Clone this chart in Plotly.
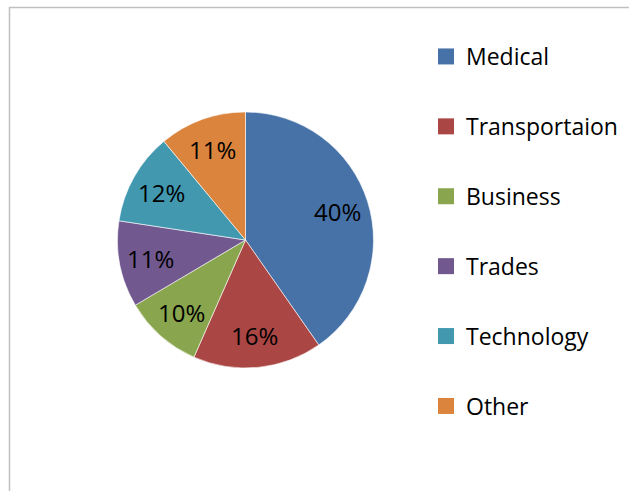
import math
import plotly.graph_objects as go

# slice data (shares of the whole)
categories = ['Medical', 'Transportaion', 'Business', 'Trades', 'Technology', 'Other']
values = [40.3, 16.3, 9.9, 10.9, 11.6, 11.0]
colors = ['#4672A8', '#AA4644', '#89A54E', '#71588F', '#4198AF', '#DB843D']

FONT = 'Open Sans, Liberation Sans, sans-serif'
W, H = 629, 491

# pie box in pixels
px0, px1, py0, py1 = 117, 374, 112, 368
cx, cy = (px0 + px1) / 2, (py0 + py1) / 2
R = (px1 - px0) / 2

fig = go.Figure()

fig.add_trace(go.Pie(labels=categories,
                     values=values,
                     sort=False,
                     direction='clockwise',
                     rotation=0,
                     marker=dict(colors=colors, line=dict(color='white', width=0.6)),
                     textinfo='none',
                     showlegend=False,
                     hoverinfo='label+percent',
                     domain=dict(x=[px0 / W, px1 / W], y=[1 - py1 / H, 1 - py0 / H])))

# percentage labels placed along each slice's middle angle, like Excel does
total = sum(values)
cum = 0
for v in values:
    mid = (cum + v / 2) / total * 2 * math.pi
    cum += v
    lx = cx + 0.75 * R * math.sin(mid)
    ly = cy - 0.75 * R * math.cos(mid)
    fig.add_annotation(x=lx / W, y=1 - ly / H, xref='paper', yref='paper',
                       xanchor='center', yanchor='middle',
                       text=f'{round(v / total * 100)}%', showarrow=False,
                       font=dict(family=FONT, size=24, color='black'))

# legend entries as dummy traces so the gap between items can be set
for cat, col in zip(categories, colors):
    fig.add_trace(go.Scatter(x=[None], y=[None],
                             mode='markers',
                             name=cat,
                             legendgroup=cat,
                             marker=dict(symbol='square', size=16, color=col),
                             showlegend=True))

fig.update_xaxes(visible=False)
fig.update_yaxes(visible=False)

fig.update_layout(width=W,
                  height=H,
                  margin=dict(l=0, r=0, t=0, b=0),
                  paper_bgcolor='white',
                  plot_bgcolor='white',
                  legend=dict(x=426 / W, y=1 - 35 / H,
                              xanchor='left', yanchor='top',
                              font=dict(family=FONT, size=23, color='black'),
                              tracegroupgap=37,
                              itemwidth=30,
                              bgcolor='rgba(0,0,0,0)'),
                  shapes=[dict(type='rect', xref='paper', yref='paper',
                               x0=9.5 / W, x1=1.2, y0=-0.2, y1=1 - 7.5 / H,
                               line=dict(color='#c0c0c0', width=1.5))])

# drop the page's default body margin so the figure sits at the window corner
fig.write_html('out.html', config={'displayModeBar': False},
               post_script="document.body.style.margin='0';")
